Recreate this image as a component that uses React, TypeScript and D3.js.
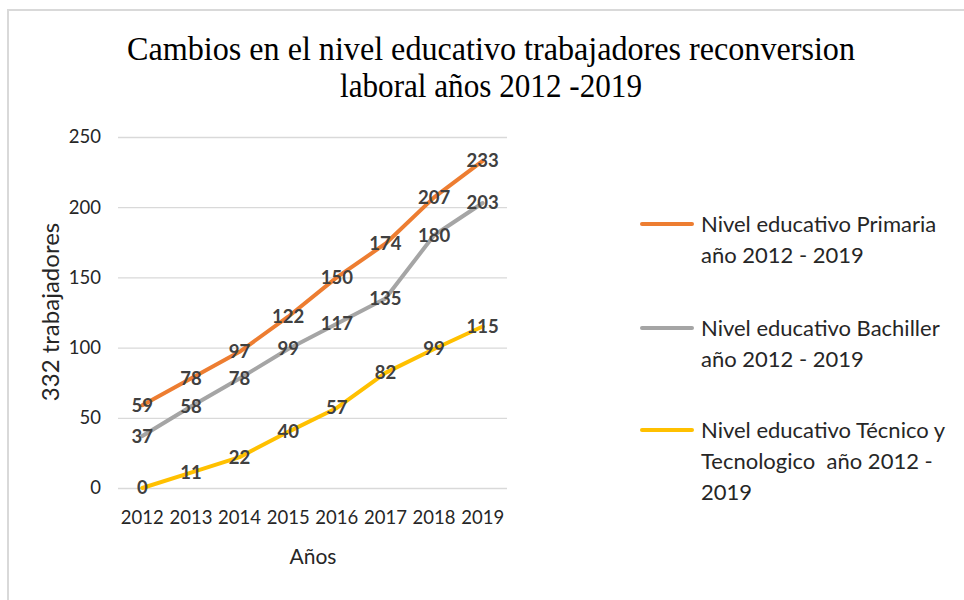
import React, { useEffect, useRef } from "react";
import * as d3 from "d3";

const WIDTH = 964;
const HEIGHT = 600;
const YEARS = ["2012", "2013", "2014", "2015", "2016", "2017", "2018", "2019"];
const PRIMARIA = [59, 78, 97, 122, 150, 174, 207, 233];
const BACHILLER = [37, 58, 78, 99, 117, 135, 180, 203];
const TECNICO = [0, 11, 22, 40, 57, 82, 99, 115];
const Y_TICKS = [0, 50, 100, 150, 200, 250];
const SERIES_NAMES = [
  ["Nivel educativo Primaria", "año 2012 - 2019"],
  ["Nivel educativo Bachiller", "año 2012 - 2019"],
  ["Nivel educativo Técnico y", "Tecnologico  año 2012 -", "2019"],
];
const COLORS = ["#ED7D31", "#A5A5A5", "#FFC000"];
const TITLE = ["Cambios en el nivel educativo trabajadores reconversion", "laboral años 2012 -2019"];
const TITLE_WIDTHS = [728, 302];

const FONT = "Lato, 'Open Sans', sans-serif";
const TEXT = "#262626";
const PLOT = { left: 118, right: 507, top: 137, bottom: 488 };

const X_SCALE = d3.scaleBand().domain(YEARS).range([PLOT.left, PLOT.right]);
const Y_SCALE = d3.scaleLinear().domain([0, 250]).range([PLOT.bottom, PLOT.top]);

export default function App() {
  const ref = useRef<SVGSVGElement>(null);

  useEffect(() => {
    const svg = d3.select(ref.current);
    svg.selectAll("*").remove();

    // frame
    svg
      .append("path")
      .attr("d", `M8,${HEIGHT} L8,10 L${WIDTH},10`)
      .attr("fill", "none")
      .attr("stroke", "#d9d9d9")
      .attr("stroke-width", 2);

    // title (squashed serif like the original)
    svg
      .append("g")
      .selectAll("text")
      .data(TITLE)
      .join("text")
      .attr("x", 491)
      .attr("y", (d, i) => 60 + i * 37)
      .attr("text-anchor", "middle")
      .attr("font-family", "'Liberation Serif', 'Times New Roman', serif")
      .attr("font-size", 33)
      .attr("textLength", (d, i) => TITLE_WIDTHS[i])
      .attr("lengthAdjust", "spacingAndGlyphs")
      .attr("fill", "#000")
      .text((d) => d);

    // gridlines
    const yAxisGrid = d3
      .axisLeft(Y_SCALE)
      .tickValues(Y_TICKS)
      .tickSize(-(PLOT.right - PLOT.left))
      .tickFormat(() => "");
    const grid = svg
      .append("g")
      .attr("transform", `translate(${PLOT.left},0)`)
      .call(yAxisGrid);
    grid.select(".domain").remove();
    grid.selectAll("line").attr("stroke", "#d9d9d9").attr("stroke-width", 1.3);

    // y tick labels
    svg
      .append("g")
      .selectAll("text")
      .data(Y_TICKS)
      .join("text")
      .attr("x", 101)
      .attr("y", (d) => Y_SCALE(d))
      .attr("dy", "0.35em")
      .attr("text-anchor", "end")
      .attr("font-family", FONT)
      .attr("font-size", 18.5)
      .attr("fill", TEXT)
      .text((d) => d);

    // x tick labels
    svg
      .append("g")
      .selectAll("text")
      .data(YEARS)
      .join("text")
      .attr("x", (d) => (X_SCALE(d) as number) + X_SCALE.bandwidth() / 2)
      .attr("y", 518)
      .attr("dy", "0.35em")
      .attr("text-anchor", "middle")
      .attr("font-family", FONT)
      .attr("font-size", 18.5)
      .attr("fill", TEXT)
      .text((d) => d);

    // axis titles
    svg
      .append("text")
      .attr("x", 313)
      .attr("y", 557)
      .attr("dy", "0.35em")
      .attr("text-anchor", "middle")
      .attr("font-family", FONT)
      .attr("font-size", 21)
      .attr("fill", TEXT)
      .text("Años");
    svg
      .append("text")
      .attr("transform", "translate(51,312) rotate(-90)")
      .attr("dy", "0.35em")
      .attr("text-anchor", "middle")
      .attr("font-family", FONT)
      .attr("font-size", 24)
      .attr("fill", TEXT)
      .text("332 trabajadores");

    const line = d3
      .line<number>()
      .x((d, i) => (X_SCALE(YEARS[i]) as number) + X_SCALE.bandwidth() / 2)
      .y((d) => Y_SCALE(d));

    const allSeries = [PRIMARIA, BACHILLER, TECNICO];
    allSeries.forEach((values, s) => {
      svg
        .append("path")
        .attr("d", line(values))
        .attr("fill", "none")
        .attr("stroke", COLORS[s])
        .attr("stroke-width", 4)
        .attr("stroke-linejoin", "round")
        .attr("stroke-linecap", "round");
    });

    // data labels on top of all lines
    allSeries.forEach((values) => {
      svg
        .append("g")
        .selectAll("text")
        .data(values)
        .join("text")
        .attr("x", (d, i) => (X_SCALE(YEARS[i]) as number) + X_SCALE.bandwidth() / 2)
        .attr("y", (d) => Y_SCALE(d))
        .attr("dy", "0.35em")
        .attr("text-anchor", "middle")
        .attr("font-family", FONT)
        .attr("font-weight", "bold")
        .attr("font-size", 18.5)
        .attr("fill", "#404040")
        .text((d) => d);
    });

    // legend
    const legendY = [224, 328, 430];
    SERIES_NAMES.forEach((lines, s) => {
      const g = svg.append("g");
      g.append("line")
        .attr("x1", 642)
        .attr("x2", 692)
        .attr("y1", legendY[s])
        .attr("y2", legendY[s])
        .attr("stroke", COLORS[s])
        .attr("stroke-width", 4)
        .attr("stroke-linecap", "round");
      g.selectAll("text")
        .data(lines)
        .join("text")
        .attr("x", 701)
        .attr("y", (d, i) => legendY[s] + i * 31)
        .attr("dy", "0.35em")
        .attr("font-family", FONT)
        .attr("font-size", 22)
        .attr("fill", TEXT)
        .attr("style", "white-space: pre")
        .text((d) => d);
    });
  }, []);

  return (
    <svg
      ref={ref}
      width={WIDTH}
      height={HEIGHT}
      style={{ position: "absolute", left: 0, top: 0, background: "#fff" }}
    />
  );
}
